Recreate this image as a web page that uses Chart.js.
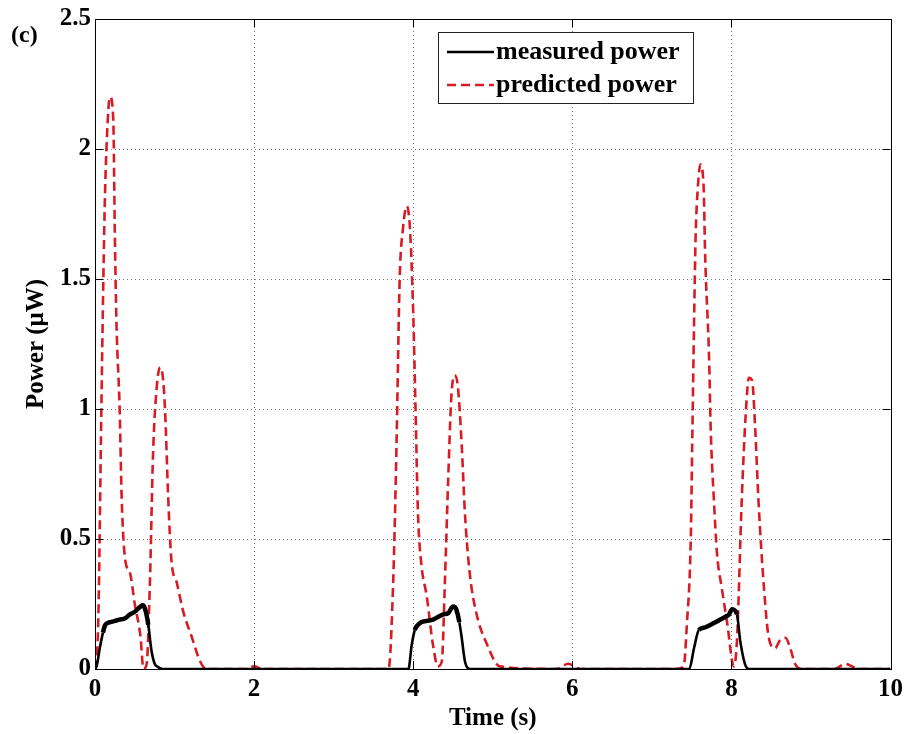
<!DOCTYPE html>
<html>
<head>
<meta charset="utf-8">
<style>
  html, body { margin: 0; padding: 0; background: #fff; }
  .chart-container { position: relative; width: 909px; height: 734px; }
</style>
</head>
<body>
<div class="chart-container">
    <canvas id="myChart" width="909" height="734"></canvas>
</div>

<script src="https://cdn.jsdelivr.net/npm/chart.js@4.4.1/dist/chart.umd.min.js"></script>
<script>
    // measured power (black solid)
    const measuredT = [0, 0.02, 0.06, 0.1, 0.13, 0.19, 0.25, 0.31, 0.38, 0.44,
        0.5, 0.57, 0.6, 0.63, 0.67, 0.71, 0.75, 0.78, 0.85, 3.94,
        3.98, 4.02, 4.06, 4.10, 4.17, 4.25, 4.31, 4.38, 4.44, 4.50,
        4.54, 4.58, 4.61, 4.65, 4.71, 7.47, 7.53, 7.59, 7.67, 7.74,
        7.80, 7.86, 7.92, 7.97, 8.01, 8.07, 8.11, 8.17, 8.22, 10];
    const measuredP = [0, 0.01, 0.08, 0.14, 0.17, 0.18, 0.185, 0.19, 0.195, 0.21,
        0.22, 0.24, 0.245, 0.23, 0.17, 0.07, 0.02, 0.01, 0, 0,
        0.09, 0.15, 0.17, 0.18, 0.185, 0.19, 0.2, 0.21, 0.215, 0.24,
        0.23, 0.18, 0.12, 0.03, 0, 0, 0.08, 0.15, 0.16, 0.17,
        0.18, 0.19, 0.2, 0.21, 0.23, 0.21, 0.11, 0.02, 0, 0];

    // predicted power (red dashed)
    const predictedT = [0, 0.04, 0.08, 0.105, 0.126, 0.17, 0.19, 0.23, 0.25, 0.27,
        0.31, 0.335, 0.38, 0.44, 0.5, 0.57, 0.61, 0.65, 0.69, 0.73,
        0.775, 0.82, 0.85, 0.88, 0.92, 0.96, 1.03, 1.11, 1.22, 1.32,
        1.4, 1.9, 2.0, 2.1, 3.6, 3.69, 3.75, 3.79, 3.83, 3.87,
        3.92, 3.96, 4.0, 4.03, 4.06, 4.10, 4.17, 4.25, 4.31, 4.36,
        4.40, 4.44, 4.48, 4.52, 4.56, 4.61, 4.65, 4.71, 4.79, 4.92,
        5.09, 5.8, 5.95, 6.1, 7.3, 7.40, 7.44, 7.49, 7.51, 7.53,
        7.55, 7.58, 7.61, 7.65, 7.67, 7.72, 7.74, 7.78, 7.82, 7.88,
        7.95, 8.03, 8.07, 8.13, 8.18, 8.22, 8.26, 8.30, 8.34, 8.41,
        8.47, 8.55, 8.61, 8.68, 8.74, 8.80, 8.89, 9.3, 9.43, 9.6,
        10];
    const predictedP = [0, 0.17, 1.0, 1.5, 1.83, 2.16, 2.2, 2.11, 1.66, 1.33,
        1.0, 0.66, 0.42, 0.37, 0.25, 0.13, 0, 0.02, 0.33, 0.83,
        1.08, 1.16, 1.13, 1.0, 0.66, 0.42, 0.33, 0.22, 0.12, 0.03,
        0, 0, 0.01, 0, 0, 0, 0.35, 0.86, 1.5, 1.69,
        1.78, 1.69, 1.37, 0.99, 0.6, 0.41, 0.28, 0.09, 0.01, 0.03,
        0.35, 0.73, 1.05, 1.13, 1.09, 0.86, 0.6, 0.37, 0.22, 0.10,
        0.01, 0, 0.02, 0, 0, 0.01, 0.17, 0.51, 0.92, 1.32,
        1.66, 1.86, 1.94, 1.86, 1.59, 1.19, 0.92, 0.65, 0.44, 0.31,
        0.17, 0.01, 0.11, 0.65, 0.98, 1.12, 1.11, 0.92, 0.65, 0.31,
        0.12, 0.08, 0.11, 0.12, 0.08, 0.02, 0, 0, 0.02, 0,
        0];

    const xTicks = [0, 2, 4, 6, 8, 10];
    const yTicks = [0, 0.5, 1, 1.5, 2, 2.5];
    const seriesNames = ['measured power', 'predicted power'];

    const RED = '#d81b24';
    const FONT = '"Liberation Serif", "Times New Roman", serif';

    function toPoints(ts, ps) {
        return ts.map((t, i) => ({ x: t, y: ps[i] }));
    }

    // grid, box, inward ticks, legend and panel label
    const matlabLook = {
        id: 'matlabLook',
        beforeDatasetsDraw(chart) {
            const ctx = chart.ctx;
            const a = chart.chartArea;
            const xs = chart.scales.x, ys = chart.scales.y;
            ctx.save();
            ctx.strokeStyle = '#7a7a7a';
            ctx.lineWidth = 1;
            ctx.setLineDash([1, 3]);
            xTicks.forEach(v => {
                if (v <= xs.min || v >= xs.max) return;
                const px = Math.round(xs.getPixelForValue(v)) + 0.5;
                ctx.beginPath(); ctx.moveTo(px, a.top); ctx.lineTo(px, a.bottom); ctx.stroke();
            });
            yTicks.forEach(v => {
                if (v <= ys.min || v >= ys.max) return;
                const py = Math.round(ys.getPixelForValue(v)) + 0.5;
                ctx.beginPath(); ctx.moveTo(a.left, py); ctx.lineTo(a.right, py); ctx.stroke();
            });
            ctx.restore();
        },
        afterDraw(chart) {
            const ctx = chart.ctx;
            const a = chart.chartArea;
            const xs = chart.scales.x, ys = chart.scales.y;
            ctx.save();
            ctx.strokeStyle = '#000';
            ctx.lineWidth = 1;
            ctx.setLineDash([]);
            ctx.strokeRect(Math.round(a.left) + 0.5, Math.round(a.top) + 0.5,
                Math.round(a.right - a.left), Math.round(a.bottom - a.top));
            const tl = 8;
            ctx.beginPath();
            xTicks.forEach(v => {
                const px = Math.round(xs.getPixelForValue(v)) + 0.5;
                ctx.moveTo(px, a.bottom); ctx.lineTo(px, a.bottom - tl);
                ctx.moveTo(px, a.top); ctx.lineTo(px, a.top + tl);
            });
            yTicks.forEach(v => {
                const py = Math.round(ys.getPixelForValue(v)) + 0.5;
                ctx.moveTo(a.left, py); ctx.lineTo(a.left + tl, py);
                ctx.moveTo(a.right, py); ctx.lineTo(a.right - tl, py);
            });
            ctx.stroke();

            // legend box
            const bx = 438, by = 32, bw = 255, bh = 71;
            ctx.fillStyle = '#fff';
            ctx.fillRect(bx, by, bw, bh);
            ctx.strokeStyle = '#222';
            ctx.strokeRect(bx + 0.5, by + 0.5, bw, bh);
            const rows = [
                { y: 52, color: '#000', dash: [] },
                { y: 85, color: RED, dash: [9, 5] }
            ];
            ctx.font = 'bold 26px ' + FONT;
            ctx.textBaseline = 'middle';
            ctx.textAlign = 'left';
            rows.forEach((r, i) => {
                ctx.strokeStyle = r.color;
                ctx.lineWidth = 2.5;
                ctx.setLineDash(r.dash);
                ctx.beginPath(); ctx.moveTo(447, r.y); ctx.lineTo(494, r.y); ctx.stroke();
                ctx.setLineDash([]);
                ctx.fillStyle = '#000';
                ctx.fillText(seriesNames[i], 496, r.y);
            });

            // panel label
            ctx.font = 'bold 24px ' + FONT;
            ctx.fillText('(c)', 11, 36);
            ctx.restore();
        }
    };

    // the measured trace is noisy on its plateaus, so it reads thicker there
    const measuredWidth = c => (c.p0.parsed.y > 0.13 && c.p1.parsed.y > 0.13) ? 4.5 : 2.6;

    const ctx = document.getElementById('myChart').getContext('2d');
    const myChart = new Chart(ctx, {
        type: 'line',
        data: {
            datasets: [{
                label: seriesNames[0],
                data: toPoints(measuredT, measuredP),
                borderColor: '#000',
                borderWidth: 2.6,
                segment: { borderWidth: measuredWidth },
                pointRadius: 0,
                cubicInterpolationMode: 'monotone',
                fill: false
            }, {
                label: seriesNames[1],
                data: toPoints(predictedT, predictedP),
                borderColor: RED,
                borderWidth: 2.6,
                borderDash: [9, 5],
                pointRadius: 0,
                cubicInterpolationMode: 'monotone',
                fill: false
            }]
        },
        options: {
            responsive: false,
            animation: false,
            layout: { padding: { left: 0, right: 16, top: 18, bottom: 0 } },
            plugins: {
                legend: { display: false },
                tooltip: { enabled: false }
            },
            scales: {
                x: {
                    type: 'linear',
                    min: 0,
                    max: 10,
                    afterFit: s => { s.height = 65; },
                    afterBuildTicks: s => { s.ticks = xTicks.map(v => ({ value: v })); },
                    grid: { display: false, drawTicks: false },
                    border: { display: false },
                    ticks: {
                        padding: 6,
                        maxRotation: 0,
                        color: '#000',
                        font: { family: FONT, size: 25, weight: 'bold' }
                    },
                    title: {
                        display: true,
                        text: 'Time (s)',
                        color: '#000',
                        padding: { top: 8, bottom: 0 },
                        font: { family: FONT, size: 25, weight: 'bold' }
                    }
                },
                y: {
                    type: 'linear',
                    min: 0,
                    max: 2.5,
                    afterFit: s => { s.width = 95; },
                    afterBuildTicks: s => { s.ticks = yTicks.map(v => ({ value: v })); },
                    grid: { display: false, drawTicks: false },
                    border: { display: false },
                    ticks: {
                        padding: 4,
                        color: '#000',
                        font: { family: FONT, size: 25, weight: 'bold' },
                        callback: v => String(v)
                    },
                    title: {
                        display: true,
                        text: 'Power (μW)',
                        color: '#000',
                        padding: { top: 22, bottom: 0 },
                        font: { family: FONT, size: 25, weight: 'bold' }
                    }
                }
            }
        },
        plugins: [matlabLook]
    });
</script>
</body>
</html>
